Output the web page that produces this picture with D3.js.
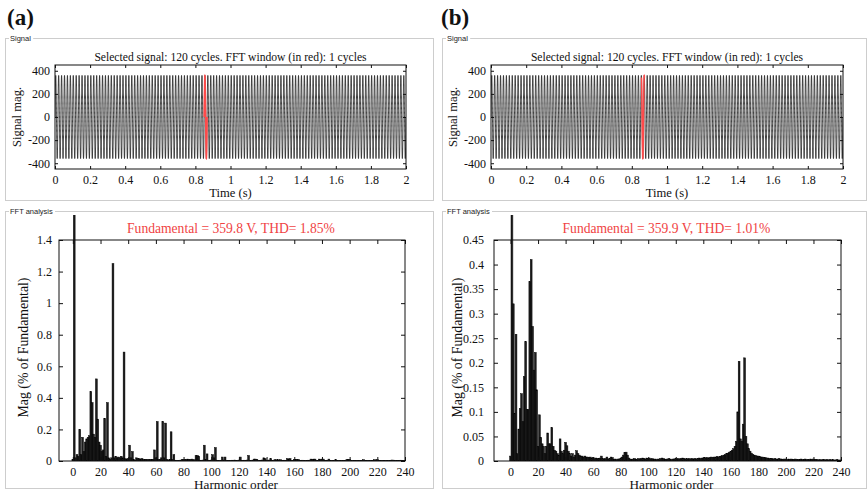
<!DOCTYPE html>
<html>
<head>
<meta charset="utf-8">
<script src="https://cdn.jsdelivr.net/npm/d3@7"></script>
<style>
  body { margin: 0; background: #fff; }
  svg { display: block; }
</style>
</head>
<body>
<svg id="chart" width="868" height="492"></svg>
<script>
// ---------- data ----------
const panelLabels = ["(a)", "(b)"];
const signalTitle = "Selected signal: 120 cycles. FFT window (in red): 1 cycles";
const fundamentalV = [359.8, 359.9];
const thdPct = [1.85, 1.01];
const signalCycles = 120;
const signalFreqHz = 60;
const fftWindowCycles = 1;
const fftWindowStart = [0.85, 0.855];         // s

const timeTicks = [0, 0.2, 0.4, 0.6, 0.8, 1, 1.2, 1.4, 1.6, 1.8, 2];
const signalTicks = [-400, -200, 0, 200, 400];
const harmonicTicks = [0, 20, 40, 60, 80, 100, 120, 140, 160, 180, 200, 220, 240];
const magTicksA = [0, 0.2, 0.4, 0.6, 0.8, 1, 1.2, 1.4];
const magTicksB = [0, 0.05, 0.1, 0.15, 0.2, 0.25, 0.3, 0.35, 0.4, 0.45];

// harmonic magnitude (% of fundamental), harmonic order 0..240
const harmonicsA = [
  0.01, 100, 0.02, 0.04, 0.03, 0.20, 0.04, 0.15, 0.06, 0.12,            // 0-9
  0.14, 0.15, 0.16, 0.44, 0.37, 0.17, 0.15, 0.52, 0.265, 0.12,          // 10-19
  0.10, 0.06, 0.07, 0.27, 0.03, 0.37, 0.02, 0.01, 0.02, 1.25,           // 20-29
  0.02, 0.03, 0.02, 0.025, 0.02, 0.03, 0.02, 0.69, 0.015, 0.01,         // 30-39
  0.015, 0.10, 0.02, 0.06, 0.01, 0.005, 0.02, 0.015, 0.015, 0.01,       // 40-49
  0.015, 0.01, 0.01, 0.008, 0.01, 0.008, 0.01, 0.008, 0.01, 0.07,       // 50-59
  0.02, 0.25, 0.01, 0.01, 0.02, 0.25, 0.02, 0.24, 0.01, 0.005,          // 60-69
  0.01, 0.185, 0.01, 0.04, 0.005, 0.004, 0.003, 0.004, 0.006, 0.008,    // 70-79
  0.01, 0.008, 0.01, 0.012, 0.008, 0.01, 0.012, 0.006, 0.008, 0.035,    // 80-89
  0.035, 0.03, 0.005, 0.004, 0.006, 0.10, 0.01, 0.045, 0.005, 0.004,    // 90-99
  0.006, 0.04, 0.02, 0.085, 0.005, 0.004, 0.003, 0.005, 0.025, 0.006,   // 100-109
  0.025, 0.004, 0.003, 0.004, 0.003, 0.005, 0.004, 0.006, 0.004, 0.003, // 110-119
  0.006, 0.025, 0.004, 0.003, 0.005, 0.004, 0.006, 0.035, 0.004, 0.003, // 120-129
  0.006, 0.012, 0.012, 0.01, 0.004, 0.003, 0.005, 0.006, 0.02, 0.015,   // 130-139
  0.004, 0.003, 0.006, 0.015, 0.004, 0.003, 0.008, 0.006, 0.008, 0.005, // 140-149
  0.008, 0.004, 0.003, 0.005, 0.004, 0.015, 0.012, 0.015, 0.004, 0.003, // 150-159
  0.01, 0.008, 0.01, 0.01, 0.004, 0.003, 0.005, 0.004, 0.003, 0.004,    // 160-169
  0.005, 0.004, 0.012, 0.01, 0.012, 0.012, 0.004, 0.003, 0.012, 0.01,   // 170-179
  0.012, 0.012, 0.004, 0.003, 0.005, 0.012, 0.004, 0.003, 0.004, 0.003, // 180-189
  0.008, 0.004, 0.003, 0.004, 0.003, 0.004, 0.003, 0.004, 0.01, 0.008,  // 190-199
  0.01, 0.004, 0.003, 0.004, 0.003, 0.004, 0.003, 0.004, 0.003, 0.004,  // 200-209
  0.008, 0.004, 0.003, 0.004, 0.003, 0.004, 0.003, 0.004, 0.008, 0.006, // 210-219
  0.008, 0.004, 0.003, 0.004, 0.003, 0.004, 0.003, 0.004, 0.003, 0.004, // 220-229
  0.005, 0.006, 0.005, 0.003, 0.004, 0.003, 0.004, 0.005, 0.003, 0.004, // 230-239
  0.003                                                                  // 240
];

const harmonicsB = [
  0.01, 100, 0.32, 0.097, 0.258, 0.015, 0.065, 0.107, 0.137, 0.08,      // 0-9
  0.172, 0.243, 0.105, 0.105, 0.365, 0.41, 0.274, 0.185, 0.221, 0.145,  // 10-19
  0.03, 0.094, 0.048, 0.035, 0.03, 0.015, 0.03, 0.057, 0.035, 0.035,    // 20-29
  0.068, 0.03, 0.022, 0.02, 0.015, 0.012, 0.045, 0.02, 0.015, 0.022,    // 30-39
  0.038, 0.031, 0.02, 0.015, 0.01, 0.015, 0.008, 0.012, 0.021, 0.015,   // 40-49
  0.012, 0.01, 0.01, 0.008, 0.01, 0.008, 0.008, 0.007, 0.008, 0.006,    // 50-59
  0.007, 0.005, 0.006, 0.005, 0.005, 0.006, 0.01, 0.005, 0.004, 0.005, // 60-69
  0.008, 0.004, 0.005, 0.008, 0.007, 0.003, 0.004, 0.003, 0.004, 0.004, // 70-79
  0.005, 0.008, 0.012, 0.017, 0.018, 0.012, 0.006, 0.004, 0.003, 0.004, // 80-89
  0.005, 0.004, 0.003, 0.005, 0.004, 0.005, 0.006, 0.005, 0.004, 0.006, // 90-99
  0.005, 0.006, 0.004, 0.005, 0.003, 0.004, 0.003, 0.004, 0.003, 0.005, // 100-109
  0.006, 0.005, 0.004, 0.003, 0.004, 0.005, 0.004, 0.003, 0.004, 0.004, // 110-119
  0.005, 0.004, 0.005, 0.004, 0.005, 0.006, 0.005, 0.004, 0.005, 0.004, // 120-129
  0.005, 0.004, 0.005, 0.004, 0.005, 0.004, 0.005, 0.006, 0.005, 0.006, // 130-139
  0.006, 0.007, 0.006, 0.007, 0.006, 0.007, 0.008, 0.007, 0.008, 0.008, // 140-149
  0.009, 0.008, 0.009, 0.01, 0.011, 0.012, 0.013, 0.015, 0.016, 0.018,  // 150-159
  0.02, 0.022, 0.025, 0.03, 0.04, 0.1, 0.203, 0.045, 0.04, 0.075,       // 160-169
  0.21, 0.05, 0.035, 0.025, 0.02, 0.016, 0.013, 0.012, 0.011, 0.01,     // 170-179
  0.01, 0.009, 0.008, 0.008, 0.007, 0.007, 0.006, 0.006, 0.005, 0.005,  // 180-189
  0.005, 0.004, 0.005, 0.004, 0.004, 0.005, 0.004, 0.004, 0.003, 0.004, // 190-199
  0.004, 0.003, 0.004, 0.003, 0.004, 0.003, 0.003, 0.004, 0.003, 0.003, // 200-209
  0.003, 0.004, 0.003, 0.003, 0.004, 0.003, 0.003, 0.003, 0.004, 0.003, // 210-219
  0.004, 0.003, 0.003, 0.003, 0.002, 0.003, 0.002, 0.003, 0.003, 0.002, // 220-229
  0.003, 0.002, 0.003, 0.002, 0.003, 0.002, 0.002, 0.003, 0.002, 0.002, // 230-239
  0.002                                                                  // 240
];

// ---------- layout ----------
const SERIF = "'Liberation Serif', 'Times New Roman', serif";
const SANS = "'Liberation Sans', Arial, sans-serif";

const panels = [
  {
    label: panelLabels[0], labelX: 7,
    frameX: 5, frameW: 428,
    sig: { x0: 55, x1: 406, yLabelX: 21 },
    fft: { x0: 59, x1: 405, xMin: -10, yLabelX: 28, yPad: 7,
           ticks: magTicksA, yMax: 1.4, values: harmonicsA },
    fundamental: fundamentalV[0], thd: thdPct[0], winStart: fftWindowStart[0]
  },
  {
    label: panelLabels[1], labelX: 441,
    frameX: 442, frameW: 424,
    sig: { x0: 491, x1: 843, yLabelX: 457 },
    fft: { x0: 494, x1: 841, xMin: -12, yLabelX: 462, yPad: 10,
           ticks: magTicksB, yMax: 0.45, values: harmonicsB },
    fundamental: fundamentalV[1], thd: thdPct[1], winStart: fftWindowStart[1]
  }
];

const SIG_Y0 = 65, SIG_Y1 = 169;
const FFT_Y0 = 240, FFT_Y1 = 461, FFT_CLIP_TOP = 215;
const sigFrame = { y: 38, h: 162 };
const fftFrame = { y: 211, h: 277 };

const svg = d3.select("#chart");
const fmt = d => String(d);

function styleAxis(g, size) {
  g.attr("font-family", SERIF).attr("font-size", size);
  g.select(".domain").remove();
  g.selectAll(".tick line").attr("stroke", "#111");
  g.selectAll(".tick text").attr("fill", "#111");
}

// grey group-box frame with its caption sitting on the top edge
function groupBox(x, y, w, h, title) {
  const box = svg.append("g");
  box.append("rect").attr("x", x + 0.5).attr("y", y + 0.5)
    .attr("width", w).attr("height", h)
    .attr("fill", "none").attr("stroke", "#cdcdcd");
  const gap = box.append("rect").attr("fill", "#fff");
  const t = box.append("text").attr("x", x + 5).attr("y", y + 3)
    .attr("font-family", SANS).attr("font-size", 7.5)
    .attr("fill", "#222").text(title);
  const bb = t.node().getBBox();
  gap.attr("x", bb.x - 1).attr("y", y - 1).attr("width", bb.width + 3).attr("height", 3);
}

function boxAxes(g, xs, ys, x0, x1, y0, y1, xTicks, yTicks, opt) {
  const tl = opt.tick;
  g.append("g").attr("transform", `translate(0,${y1})`)
    .call(d3.axisBottom(xs).tickValues(xTicks).tickSize(-tl).tickPadding(opt.xPad).tickFormat(fmt))
    .call(s => styleAxis(s, opt.font));
  g.append("g").attr("transform", `translate(0,${y0})`)
    .call(d3.axisTop(xs).tickValues(xTicks).tickSize(-tl).tickFormat(""))
    .call(s => styleAxis(s, opt.font));
  g.append("g").attr("transform", `translate(${x0},0)`)
    .call(d3.axisLeft(ys).tickValues(yTicks).tickSize(-tl).tickPadding(opt.yPad).tickFormat(fmt))
    .call(s => styleAxis(s, opt.font));
  g.append("g").attr("transform", `translate(${x1},0)`)
    .call(d3.axisRight(ys).tickValues(yTicks).tickSize(-tl).tickFormat(""))
    .call(s => styleAxis(s, opt.font));
  g.append("rect").attr("x", x0).attr("y", y0)
    .attr("width", x1 - x0).attr("height", y1 - y0)
    .attr("fill", "none").attr("stroke", "#111").attr("stroke-width", 1);
}

panels.forEach((p, i) => {
  // panel letter
  svg.append("text").attr("x", p.labelX).attr("y", 25)
    .attr("font-family", SERIF).attr("font-weight", "bold").attr("font-size", 23)
    .attr("fill", "#111").text(p.label);

  groupBox(p.frameX, sigFrame.y, p.frameW, sigFrame.h, "Signal");
  groupBox(p.frameX, fftFrame.y, p.frameW, fftFrame.h, "FFT analysis");

  // ----- time-domain signal -----
  const duration = signalCycles / signalFreqHz;
  const xs = d3.scaleLinear().domain([0, duration]).range([p.sig.x0, p.sig.x1]);
  const ys = d3.scaleLinear().domain([-450, 450]).range([SIG_Y1, SIG_Y0]);
  const g = svg.append("g");
  const clipId = "sigclip" + i;
  g.append("clipPath").attr("id", clipId).append("rect")
    .attr("x", p.sig.x0).attr("y", SIG_Y0).attr("width", p.sig.x1 - p.sig.x0).attr("height", SIG_Y1 - SIG_Y0);

  const perCycle = 200;
  const n = signalCycles * perCycle;
  const wave = d3.range(n + 1).map(k => {
    const t = k / n * duration;
    return [t, p.fundamental * Math.sin(2 * Math.PI * signalFreqHz * t)];
  });
  const line = d3.line().x(d => xs(d[0])).y(d => ys(d[1]));
  g.append("path").attr("clip-path", `url(#${clipId})`)
    .attr("d", line(wave)).attr("fill", "none")
    .attr("stroke", "#000").attr("stroke-width", 0.75);

  const winEnd = p.winStart + fftWindowCycles / signalFreqHz;
  const win = wave.filter(d => d[0] >= p.winStart && d[0] <= winEnd);
  g.append("path").attr("clip-path", `url(#${clipId})`)
    .attr("d", line(win)).attr("fill", "none")
    .attr("stroke", "#ff4a4a").attr("stroke-width", 1.5);

  boxAxes(g, xs, ys, p.sig.x0, p.sig.x1, SIG_Y0, SIG_Y1, timeTicks, signalTicks,
    { tick: 3, xPad: 6, yPad: 5, font: 12 });

  const sigMid = (p.sig.x0 + p.sig.x1) / 2;
  g.append("text").attr("x", sigMid).attr("y", 61).attr("text-anchor", "middle")
    .attr("font-family", SERIF).attr("font-size", 11.6).attr("fill", "#111").text(signalTitle);
  g.append("text").attr("x", sigMid).attr("y", 197).attr("text-anchor", "middle")
    .attr("font-family", SERIF).attr("font-size", 12.6).attr("fill", "#111").text("Time (s)");
  g.append("text").attr("transform", `translate(${p.sig.yLabelX},${(SIG_Y0 + SIG_Y1) / 2}) rotate(-90)`)
    .attr("text-anchor", "middle").attr("font-family", SERIF).attr("font-size", 12.6)
    .attr("fill", "#111").text("Signal mag.");

  // ----- harmonic spectrum -----
  const f = p.fft;
  const hx = d3.scaleLinear().domain([f.xMin, 240]).range([f.x0, f.x1]);
  const hy = d3.scaleLinear().domain([0, f.yMax]).range([FFT_Y1, FFT_Y0]);
  const fg = svg.append("g");
  const fclip = "fftclip" + i;
  fg.append("clipPath").attr("id", fclip).append("rect")
    .attr("x", f.x0).attr("y", FFT_CLIP_TOP).attr("width", f.x1 - f.x0).attr("height", FFT_Y1 - FFT_CLIP_TOP);

  const step = hx(1) - hx(0);
  const bw = step * 1.3;
  fg.append("g").attr("clip-path", `url(#${fclip})`)
    .selectAll("rect").data(f.values).join("rect")
    .attr("x", (d, h) => hx(h) - bw / 2)
    .attr("y", d => hy(d))
    .attr("width", bw)
    .attr("height", d => hy(0) - hy(d))
    .attr("fill", "#1c1c1c").attr("stroke", "#000").attr("stroke-width", 0.5);

  boxAxes(fg, hx, hy, f.x0, f.x1, FFT_Y0, FFT_Y1, harmonicTicks, f.ticks,
    { tick: 4, xPad: 6, yPad: f.yPad, font: 12 });

  const fMid = (f.x0 + f.x1) / 2;
  fg.append("text").attr("x", fMid - 1).attr("y", 233).attr("text-anchor", "middle")
    .attr("font-family", SERIF).attr("font-size", 13.6).attr("fill", "#f04343")
    .text(`Fundamental = ${p.fundamental} V, THD= ${p.thd}%`);
  fg.append("text").attr("x", fMid + 4).attr("y", 489).attr("text-anchor", "middle")
    .attr("font-family", SERIF).attr("font-size", 13.2).attr("fill", "#111").text("Harmonic order");
  fg.append("text").attr("transform", `translate(${f.yLabelX},${(FFT_Y0 + FFT_Y1) / 2 - 3}) rotate(-90)`)
    .attr("text-anchor", "middle").attr("font-family", SERIF).attr("font-size", 13.8)
    .attr("fill", "#111").text("Mag (% of Fundamental)");
});
</script>
</body>
</html>
